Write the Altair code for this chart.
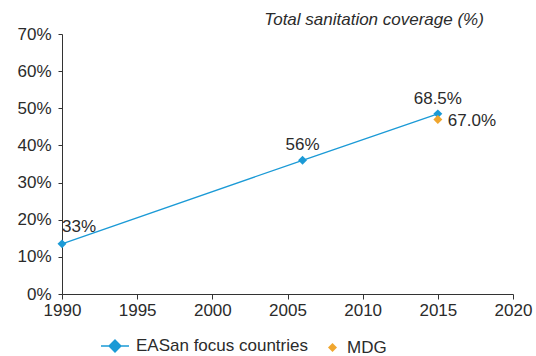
import altair as alt
import pandas as pd

# Total sanitation coverage, EASan focus countries vs. MDG target
years = [1990, 2006, 2015]
coverage = [13.5, 36.0, 48.5]
coverage_labels = ["33%", "56%", "68.5%"]

mdg_year = [2015]
mdg_value = [47.0]
mdg_labels = ["67.0%"]

x_ticks = [1990, 1995, 2000, 2005, 2010, 2015, 2020]
y_ticks = [0, 10, 20, 30, 40, 50, 60, 70]

BLUE = "#1b9ad6"
ORANGE = "#f0a62e"
TEXT = "#2b2b2b"
FONT = "Liberation Sans"
FS = 17

easan = pd.DataFrame({
    "year": years,
    "value": coverage,
    "label": coverage_labels,
    "series": ["EASan focus countries"] * len(years),
})
mdg = pd.DataFrame({
    "year": mdg_year,
    "value": mdg_value,
    "label": mdg_labels,
    "series": ["MDG"] * len(mdg_year),
})

x_enc = alt.X(
    "year:Q",
    scale=alt.Scale(domain=[1990, 2020], nice=False, zero=False),
    axis=alt.Axis(values=x_ticks, format="d", title=None, grid=False,
                  labelOverlap=False, labelFlush=False, labelPadding=3),
)
y_enc = alt.Y(
    "value:Q",
    scale=alt.Scale(domain=[0, 70], nice=False),
    axis=alt.Axis(values=y_ticks, labelExpr="datum.value + '%'", title=None, grid=False,
                  labelOverlap=False, labelFlush=False, labelPadding=7, tickSize=4),
)

line = alt.Chart(easan).mark_line(strokeWidth=1.3).encode(
    x=x_enc,
    y=y_enc,
    stroke=alt.Stroke(
        "series:N",
        scale=alt.Scale(domain=["EASan focus countries"], range=[BLUE]),
        legend=alt.Legend(
            title=None, orient="none", legendX=38, legendY=297,
            symbolType="M-1,0L1,0M0,-0.43L0.43,0L0,0.43L-0.43,0Z",
            symbolSize=784, symbolStrokeWidth=1.3, symbolFillColor=BLUE,
            labelFont=FONT, labelFontSize=FS, labelColor=TEXT, labelOffset=6,
            labelLimit=0,
        ),
    ),
)

pts = alt.Chart(easan).mark_point(shape="diamond", filled=True, size=80, color=BLUE, opacity=1).encode(
    x=x_enc, y=y_enc
)

mdg_pts = alt.Chart(mdg).mark_point(shape="diamond", filled=True, size=80, opacity=1).encode(
    x=x_enc,
    y=y_enc,
    fill=alt.Fill(
        "series:N",
        scale=alt.Scale(domain=["MDG"], range=[ORANGE]),
        legend=alt.Legend(
            title=None, orient="none", legendX=262, legendY=305,
            symbolType="diamond", symbolSize=80, symbolStrokeWidth=0,
            labelFont=FONT, labelFontSize=FS, labelColor=TEXT, labelOffset=6,
            labelLimit=0,
        ),
    ),
)

text_style = dict(font=FONT, fontSize=FS, color=TEXT)

lbl_first = alt.Chart(easan.iloc[[0]]).mark_text(align="left", baseline="bottom", dx=0, dy=-8, **text_style).encode(
    x=x_enc, y=y_enc, text="label:N"
)
lbl_rest = alt.Chart(easan.iloc[1:]).mark_text(align="center", baseline="bottom", dy=-6, **text_style).encode(
    x=x_enc, y=y_enc, text="label:N"
)
lbl_mdg = alt.Chart(mdg).mark_text(align="left", baseline="middle", dx=10, dy=2, **text_style).encode(
    x=x_enc, y=y_enc, text="label:N"
)

chart = alt.layer(line, pts, mdg_pts, lbl_first, lbl_rest, lbl_mdg).properties(
    width=451,
    height=260,
    autosize=alt.AutoSizeParams(type="none"),
    padding={"left": 62, "top": 34, "right": 23, "bottom": 62},
    title=alt.Title(
        "Total sanitation coverage (%)", anchor="end", orient="top",
        font=FONT, fontSize=FS, fontStyle="italic", fontWeight="normal",
        color=TEXT, dx=-48, offset=-4,
    ),
).configure(background="white").configure_view(stroke=None).configure_axis(
    domainColor="#333333", tickColor="#333333", tickSize=5,
    labelFont=FONT, labelFontSize=FS, labelColor=TEXT,
)

chart.save("out.html", embed_options={"renderer": "svg", "actions": False})
